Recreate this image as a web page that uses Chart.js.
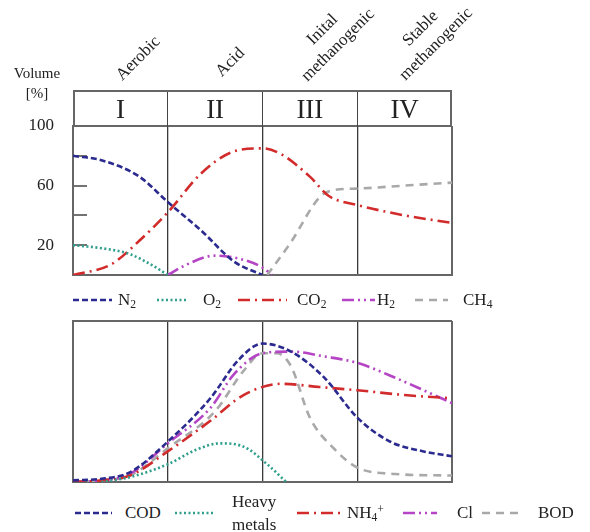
<!DOCTYPE html>
<html>
<head>
<meta charset="utf-8">
<script src="https://cdn.jsdelivr.net/npm/chart.js@4.4.1/dist/chart.umd.min.js"></script>
<style>
  body { margin: 0; background: #fff; }
  #wrap { position: relative; width: 590px; height: 532px; font-family: "Liberation Serif", "Times New Roman", serif; color: #222; overflow: hidden; }
  .abs { position: absolute; white-space: nowrap; }
  .rot { transform: translate(-50%, -50%) rotate(-45deg); text-align: center; font-size: 17px; line-height: 22px; }
  #header { left: 73px; top: 90px; width: 379px; height: 37px; box-sizing: border-box; border: 2px solid #666; border-bottom: none; }
  .cell { position: absolute; top: 0; height: 35px; line-height: 35px; text-align: center; font-size: 27px; }
  .div { position: absolute; top: 0; width: 0; height: 35px; border-left: 1.5px solid #444; }
  .lg { font-size: 17px; line-height: 20px; transform: translateY(-50%); }
  .lg sub { font-size: 0.68em; vertical-align: -0.3em; line-height: 0; }
  .lg sup { font-size: 0.68em; vertical-align: 0.45em; line-height: 0; }
  svg.smp { position: absolute; overflow: visible; }
</style>
</head>
<body>
<div id="wrap">
  <canvas id="topChart" class="abs" width="590" height="290" style="left:0;top:0"></canvas>
  <canvas id="bottomChart" class="abs" width="590" height="200" style="left:0;top:300px"></canvas>
  <div class="abs" style="left:12px;top:63px;font-size:15px;line-height:20px;text-align:center;width:50px">Volume<br>[%]</div>
  <div id="header" class="abs"></div>
</div>
<script>
// phases
const phaseNumerals = ["I", "II", "III", "IV"];
const phaseNames = [["Aerobic"], ["Acid"], ["Inital", "methanogenic"], ["Stable", "methanogenic"]];
const yTickLabels = [20, 60, 100];

// top chart: gas composition (x = phase position 0..4, y = volume %)
const n2X = [0, 0.3, 0.7, 1.0, 1.35, 1.7, 2.0];
const n2Y = [80, 77, 66, 49, 30, 9, 0];
const o2X = [0, 0.3, 0.6, 0.85, 1.0];
const o2Y = [20, 18, 14, 6, 0];
const co2X = [0, 0.4, 0.7, 1.0, 1.35, 1.7, 2.0, 2.2, 2.5, 2.7, 3.0, 3.5, 4.0];
const co2Y = [0, 7, 23, 42, 68, 83, 85, 81, 66, 53, 47, 40, 35];
const h2X = [1.0, 1.2, 1.5, 1.75, 2.0, 2.1];
const h2Y = [0, 7, 13, 11, 5, 0];
const ch4X = [2.05, 2.3, 2.6, 2.75, 3.0, 3.5, 4.0];
const ch4Y = [0, 22, 52, 57, 58, 60, 62];

// bottom chart: leachate (relative)
const codX = [0, 0.3, 0.6, 1.0, 1.45, 1.75, 2.0, 2.3, 2.65, 3.0, 3.35, 3.7, 4.0];
const codY = [1, 2, 6, 25, 52, 76, 86, 81, 65, 40, 25, 19, 16];
const hmX = [0.3, 0.6, 1.0, 1.3, 1.55, 1.8, 2.05, 2.25];
const hmY = [0, 3, 11, 20, 24, 22, 11, 0];
const nh4X = [0, 0.3, 0.6, 1.0, 1.45, 1.8, 2.2, 2.6, 3.0, 3.5, 4.0];
const nh4Y = [0, 1, 4, 19, 38, 54, 61, 59, 57, 54, 52];
const clX = [0, 0.3, 0.6, 1.0, 1.45, 1.7, 2.0, 2.3, 2.65, 3.0, 3.35, 3.7, 4.0];
const clY = [0, 1, 5, 24, 46, 67, 80, 81, 78, 74, 66, 57, 49];
const bodX = [0, 0.3, 0.6, 1.0, 1.5, 1.8, 2.0, 2.15, 2.3, 2.5, 2.75, 3.0, 3.4, 4.0];
const bodY = [0, 1, 4, 21, 44, 69, 80, 80, 72, 40, 21, 9, 5, 4];

const topNames = ["N<sub>2</sub>", "O<sub>2</sub>", "CO<sub>2</sub>", "H<sub>2</sub>", "CH<sub>4</sub>"];
const bottomNames = ["COD", "Heavy<br>metals", "NH<sub>4</sub><sup>+</sup>", "Cl", "BOD"];

// line styles
const NAVY = { color: "#2b2b8f", dash: [6, 3] };
const TEAL = { color: "#2f9e8c", dash: [2, 2.5] };
const RED = { color: "#d22b2b", dash: [12, 5, 2, 5] };
const MAGENTA = { color: "#b545c5", dash: [12, 4, 2, 4, 2, 4] };
const GRAY = { color: "#a9a9a9", dash: [8, 6] };

const pts = (xs, ys) => xs.map((x, i) => ({ x, y: ys[i] }));
const ds = (label, xs, ys, st) => ({
  label, data: pts(xs, ys), borderColor: st.color, borderDash: st.dash,
  borderWidth: 2.6, pointRadius: 0, cubicInterpolationMode: "monotone", fill: false
});

const topSets = [
  ds("N2", n2X, n2Y, NAVY), ds("O2", o2X, o2Y, TEAL), ds("CO2", co2X, co2Y, RED),
  ds("H2", h2X, h2Y, MAGENTA), ds("CH4", ch4X, ch4Y, GRAY)
];
const bottomSets = [
  ds("COD", codX, codY, NAVY), ds("Heavy metals", hmX, hmY, TEAL), ds("NH4+", nh4X, nh4Y, RED),
  ds("Cl", clX, clY, MAGENTA), ds("BOD", bodX, bodY, GRAY)
];

const xScale = () => ({
  type: "linear", min: 0, max: 4,
  ticks: { display: false, stepSize: 1 },
  grid: {
    drawTicks: false,
    color: c => (c.tick.value === 0 || c.tick.value === 4) ? "#666" : "#3a3a3a",
    lineWidth: c => (c.tick.value === 0 || c.tick.value === 4) ? 2 : 1.3
  },
  border: { color: "#666", width: 2 },
  afterFit: s => { s.height = 0; s.paddingLeft = 0; s.paddingRight = 0; }
});

const base = (sets, padding, yScale) => ({
  type: "line",
  data: { datasets: sets },
  options: {
    responsive: false, animation: false, devicePixelRatio: 1,
    layout: { padding },
    plugins: { legend: { display: false }, tooltip: { enabled: false } },
    scales: { x: xScale(), y: yScale }
  }
});

// fixed y-axis width, no extra label padding so the plot box lands where the reference has it
const fixY = s => { s.width = 73; s.paddingTop = 0; s.paddingBottom = 0; };

const topChart = new Chart(document.getElementById("topChart"), base(topSets,
  { left: 0, right: 138, top: 126, bottom: 15 },
  {
    min: 0, max: 100,
    ticks: {
      stepSize: 20, padding: 33, color: "#222",
      font: { family: "Liberation Serif", size: 17 },
      callback: v => yTickLabels.includes(v) ? v : ""
    },
    grid: {
      drawTicks: true, tickLength: -14,
      color: c => (c.tick.value === 0 || c.tick.value === 100) ? "#666" : "rgba(0,0,0,0)",
      lineWidth: 2,
      tickColor: c => (c.tick.value === 0 || c.tick.value === 100) ? "rgba(0,0,0,0)" : "#444",
      tickWidth: 1.5
    },
    border: { color: "#666", width: 2 },
    afterFit: fixY
  }));

const bottomChart = new Chart(document.getElementById("bottomChart"), base(bottomSets,
  { left: 0, right: 138, top: 21, bottom: 18 },
  {
    min: 0, max: 100,
    ticks: { display: false, stepSize: 100 },
    grid: { drawTicks: false, color: "#666", lineWidth: 2 },
    border: { color: "#666", width: 2 },
    afterFit: fixY
  }));

// header row with phase numerals, divided at the chart's own phase boundaries
const wrap = document.getElementById("wrap");
const header = document.getElementById("header");
const xs = topChart.scales.x;
const hLeft = 75;
phaseNumerals.forEach((n, i) => {
  const a = xs.getPixelForValue(i), b = xs.getPixelForValue(i + 1);
  const cell = document.createElement("div");
  cell.className = "cell";
  cell.style.left = (a - hLeft) + "px";
  cell.style.width = (b - a) + "px";
  cell.textContent = n;
  header.appendChild(cell);
  if (i > 0) {
    const d = document.createElement("div");
    d.className = "div";
    d.style.left = (a - hLeft - 0.75) + "px";
    header.appendChild(d);
  }
});

// rotated phase names
const namePos = [[138, 58], [230, 62], [330, 37], [428, 36]];
phaseNames.forEach((lines, i) => {
  const el = document.createElement("div");
  el.className = "abs rot";
  el.style.left = namePos[i][0] + "px";
  el.style.top = namePos[i][1] + "px";
  el.innerHTML = lines.join("<br>");
  wrap.appendChild(el);
});

// legends
function legend(sets, names, samplePos, textPos, y) {
  sets.forEach((d, i) => {
    const [x1, x2] = samplePos[i];
    const w = x2 - x1;
    const svg = document.createElementNS("http://www.w3.org/2000/svg", "svg");
    svg.setAttribute("class", "smp");
    svg.setAttribute("width", w);
    svg.setAttribute("height", 6);
    svg.style.left = x1 + "px";
    svg.style.top = (y - 3) + "px";
    svg.innerHTML = `<line x1="0" y1="3" x2="${w}" y2="3" stroke="${d.borderColor}" stroke-width="2.6" stroke-dasharray="${d.borderDash.join(" ")}"/>`;
    wrap.appendChild(svg);
    const t = document.createElement("div");
    t.className = "abs lg";
    t.style.left = textPos[i] + "px";
    t.style.top = y + "px";
    if (names[i].includes("<br>")) { t.style.textAlign = "center"; t.style.lineHeight = "23px"; }
    t.innerHTML = names[i];
    wrap.appendChild(t);
  });
}
legend(topSets, topNames, [[73, 112], [157, 188], [238, 287], [342, 375], [415, 448]],
  [118, 203, 297, 377, 463], 300);
legend(bottomSets, bottomNames, [[75, 112], [175, 213], [297, 340], [403, 437], [482, 520]],
  [125, 232, 347, 457, 538], 513);
</script>
</body>
</html>
